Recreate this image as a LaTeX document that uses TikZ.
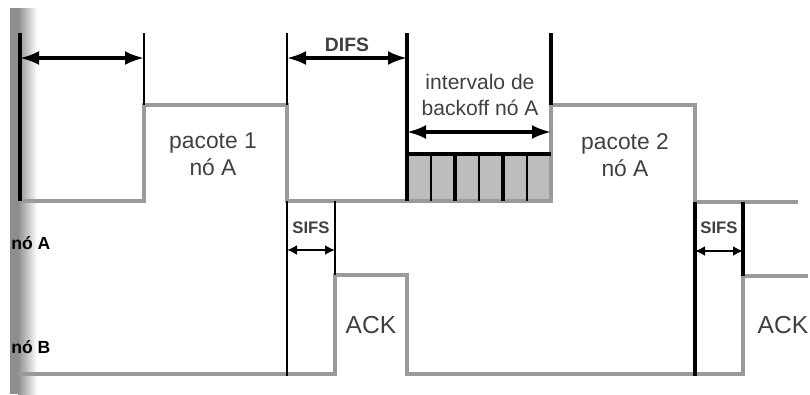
\documentclass[tikz,border=0pt]{standalone}
\usepackage{fontspec}
\setmainfont{Liberation Sans}
\usetikzlibrary{arrows.meta,positioning}
\definecolor{cSig}{HTML}{9A9A9A}
\definecolor{cSlot}{HTML}{BDBDBD}
\definecolor{cBar}{HTML}{8E8E8E}
\definecolor{cTxt}{HTML}{404040}
\tikzset{
  sig/.style={draw=cSig, line width=1.8pt, line join=miter},
  bound/.style={draw=black, line width=1.8pt},
  thinbound/.style={draw=black, line width=1.0pt},
  span/.style={{Latex[length=3.8mm,width=2.8mm]}-{Latex[length=3.8mm,width=2.8mm]}, line width=1.8pt},
  smallspan/.style={{Latex[length=2mm,width=2mm]}-{Latex[length=2mm,width=2mm]}, line width=1.2pt},
  lbl/.style={font=\fontsize{13}{15.5}\selectfont, text=cTxt, align=center, inner sep=0pt},
  tag/.style={font=\bfseries\fontsize{11}{13}\selectfont, text=cTxt, inner sep=0pt},
  sifstag/.style={font=\bfseries\fontsize{9.5}{11}\selectfont, text=cTxt, inner sep=0pt},
  station/.style={font=\bfseries\fontsize{10}{12}\selectfont, text=black, inner sep=0pt, anchor=west},
}
\begin{document}
\begin{tikzpicture}[x=0.2mm, y=-0.2mm]
    \useasboundingbox (0,0) rectangle (810,394);
    % --- left margin bar ---
    \fill[cBar] (10,8) rectangle (18,394);
    \shade[left color=cBar, right color=white] (18,8) rectangle (37,394);
    % --- signal of station A ---
    \fill[cSlot] (407,154) rectangle (551,201);
    \draw[sig] (20,201) -- (144,201) -- (144,105) -- (287,105) -- (287,201)
      -- (551,201) -- (551,105) -- (695,105) -- (695,202) -- (798,202);
    % --- signal of station B ---
    \draw[sig] (18,374) -- (335,374) -- (335,275) -- (407,275) -- (407,374)
      -- (743,374) -- (743,276) -- (808,276);
    % --- time marks ---
    \coordinate (t0) at (20,58);
    \coordinate (t1) at (144,58);
    \coordinate (d0) at (287,58);
    \coordinate (d1) at (407,58);
    \coordinate (b0) at (407,132);
    \coordinate (b1) at (551,132);
    \coordinate (s0) at (287,250);
    \coordinate (s1) at (335,250);
    \coordinate (r0) at (695,251);
    \coordinate (r1) at (743,251);
    \draw[bound] (20,33) -- (20,201);
    \draw[thinbound] (144,33) -- (144,105);
    \draw[thinbound] (287,33) -- (287,105);
    \draw[bound] (407,33) -- (407,201);
    \draw[bound] (551,33) -- (551,105);
    \draw[bound] (407,154) -- (551,154);
    \foreach \xs/\lw in {431/1.1pt,455/1.8pt,479/1.1pt,503/1.8pt,527/1.1pt}
      \draw[draw=black, line width=\lw] (\xs,154) -- (\xs,201);
    \draw[thinbound, line width=1.3pt] (287,201) -- (287,376);
    \draw[thinbound, line width=1.3pt] (335,201) -- (335,275);
    \draw[bound] (695,202) -- (695,376);
    \draw[bound] (743,202) -- (743,276);
    % --- spans ---
    \draw[span] (t0) -- (t1);
    \draw[span] (d0) -- (d1);
    \draw[span] (b0) -- (b1);
    \draw[smallspan] (s0) -- (s1);
    \draw[smallspan] (r0) -- (r1);
    % --- labels ---
    \node[tag] (difs) at (347,45) {DIFS};
    \node[lbl, font=\fontsize{12}{14.5}\selectfont] (bo) at (480,95) {intervalo de\\backoff nó A};
    \node[lbl] (p1) at (213,154) {pacote 1\\nó A};
    \node[lbl] (p2) at (625,155) {pacote 2\\nó A};
    \node[lbl, font=\fontsize{14}{16}\selectfont] (ack1) at (371,325) {ACK};
    \node[lbl, font=\fontsize{14}{16}\selectfont] (ack2) at (783,325) {ACK};
    \node[sifstag] (sifs1) at (311,228) {SIFS};
    \node[sifstag] (sifs2) at (719,228) {SIFS};
    \node[station] (na) at (11,243) {nó A};
    \node[station] (nb) at (11,347) {nó B};
  \end{tikzpicture}
\end{document}
